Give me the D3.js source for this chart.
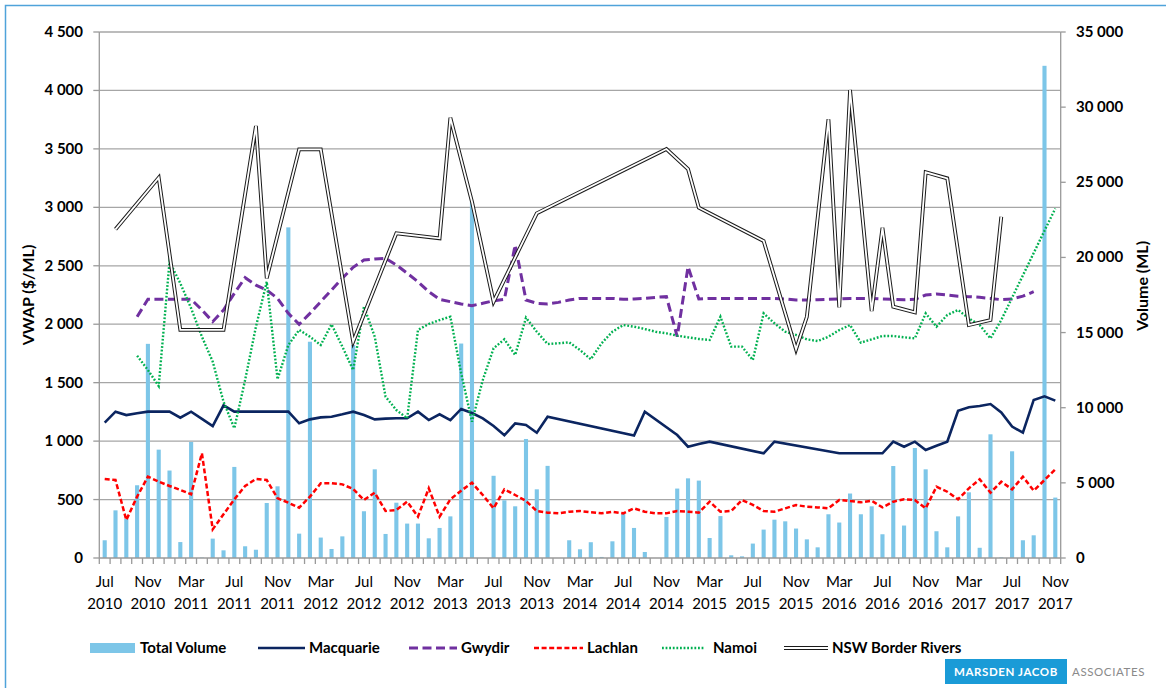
<!DOCTYPE html>
<html>
<head>
<meta charset="utf-8">
<script src="https://cdn.jsdelivr.net/npm/d3@7"></script>
<style>
  body { margin: 0; background: #fff; }
  svg { display: block; font-family: Lato, "Open Sans", sans-serif; }
</style>
</head>
<body>
<svg id="chart" width="1166" height="688"></svg>
<script>
// Monthly categories, Jul 2010 .. Nov 2017
const months = d3.timeMonth.range(new Date(2010, 6, 1), new Date(2017, 11, 1));

// Total traded volume (ML), right axis
const totalVolume = [
  1180, 3170, 2600, 4840, 14250, 7210, 5820, 1060, 7720, 30,
  1290, 510, 6060, 780, 550, 3660, 4770, 22000, 1620, 14390,
  1360, 600, 1440, 14170, 3110, 5900, 1600, 3680, 2290, 2290,
  1310, 2000, 2770, 14270, 23700, 0, 5470, 3840, 3440, 7920,
  4570, 6130, 0, 1180, 580, 1050, 70, 1110, 2930, 2000,
  400, 0, 2730, 4620, 5300, 5150, 1330, 2790, 180, 110,
  960, 1890, 2550, 2440, 1960, 1240, 710, 2910, 2360, 4290,
  2910, 3440, 1580, 6120, 2160, 7320, 5900, 1780, 710, 2770,
  4370, 680, 8230, 40, 7100, 1180, 1510, 32750, 4020
];

// VWAP ($/ML), left axis; null = no trade that month
const macquarie = [
  1158, 1252, 1223, 1238, 1252, 1252, 1252, 1200, 1252, 1190,
  1129, 1306, 1252, 1252, 1252, 1252, 1252, 1252, 1152, 1186,
  1203, 1209, 1229, 1252, 1223, 1186, 1192, 1195, 1195, 1252,
  1180, 1229, 1180, 1275, 1240, 1195, 1129, 1050, 1152, 1138,
  1072, 1209, null, null, null, null, null, null, null, 1047,
  1252, null, null, 1052, 952, 975, 995, null, null, null,
  null, 896, 995, null, null, null, null, null, 896, null,
  null, null, 896, 995, 952, 995, 924, 961, 995, 1260,
  1289, 1300, 1317, 1246, 1124, 1072, 1352, 1383, 1346
];

const gwydir = [
  null, null, null, 2064, 2213, 2213, 2213, 2213, 2213, 2122,
  2022, 2122, 2264, 2398, 2335, 2293, 2221, 2093, 1999, 2093,
  2193, 2293, 2393, 2487, 2549, 2558, 2564, 2507, 2436, 2364,
  2278, 2213, 2193, 2173, 2159, 2179, 2201, 2213, 2678, 2207,
  2179, 2173, 2187, 2207, 2221, 2221, 2221, 2221, 2213, 2216,
  2221, 2230, 2236, 1893, 2492, 2216, 2221, 2221, 2221, 2221,
  2221, 2221, 2221, 2216, 2207, 2207, 2210, 2213, 2216, 2221,
  2221, 2221, 2216, 2213, 2210, 2213, 2250, 2259, 2250, 2240,
  2236, 2230, 2221, 2210, 2216, 2240, 2278, null, null
];

const lachlan = [
  676, 667, 325, 525, 696, 653, 616, 582, 545, 896,
  245, 374, 502, 616, 676, 667, 511, 473, 430, 525,
  639, 639, 630, 590, 496, 559, 402, 411, 482, 354,
  596, 354, 502, 576, 644, 539, 425, 587, 539, 488,
  402, 388, 382, 396, 402, 391, 382, 396, 382, 425,
  396, 382, 382, 402, 396, 388, 482, 396, 402, 496,
  455, 402, 396, 425, 453, 439, 433, 425, 496, 488,
  476, 490, 433, 482, 502, 496, 425, 610, 567, 502,
  596, 673, 559, 653, 587, 696, 576, 667, 759
];

const namoi = [
  null, null, null, 1731, 1608, 1471, 2535, 2350, 2136, 1893,
  1680, 1337, 1110, 1523, 1979, 2364, 1529, 1822, 1951, 1893,
  1822, 1999, 1808, 1608, 2150, 1893, 1380, 1266, 1195, 1951,
  2002, 2036, 2064, 1580, 1166, 1523, 1794, 1871, 1737, 2056,
  1936, 1831, 1837, 1845, 1779, 1700, 1837, 1936, 1993, 1979,
  1959, 1936, 1922, 1902, 1888, 1874, 1865, 2064, 1808, 1808,
  1694, 2093, 2008, 1936, 1908, 1871, 1856, 1893, 1950, 1993,
  1842, 1871, 1899, 1899, 1888, 1879, 2093, 1979, 2079, 2122,
  2050, 1993, 1879, 2036, 2227, 2418, 2609, 2800, 2990
];

const borderRivers = [
  null, 2812, null, null, null, 3254, null, 1951, 1951, 1951,
  1951, 1951, null, null, 3696, 2393, null, null, 3496, 3496,
  3496, null, null, 1851, null, null, null, 2778, null, null,
  null, 2735, 3767, null, 3048, null, 2193, null, null, null,
  2949, null, null, null, null, null, null, null, null, null,
  null, null, 3499, null, 3328, 2997, null, null, null, null,
  null, 2712, null, null, 1785, 2064, null, 3753, 2145, 4004,
  null, 2113, 2826, 2150, null, 2102, 3300, null, 3248, null,
  1993, null, 2036, 2920, null, null, null, null, null
];

const leftTicks = d3.range(0, 4501, 500);
const rightTicks = d3.range(0, 35001, 5000);
const labelEvery = 4;

// ---- drawing ----
const svg = d3.select("#chart");
const plot = { left: 99.3, right: 1060.7, top: 32, bottom: 558 };
const fmt = d3.formatLocale({ decimal: ".", thousands: " ", grouping: [3], currency: ["$", ""] }).format(",");

const x = d3.scaleBand().domain(d3.range(months.length)).range([plot.left, plot.right]).padding(0);
const yL = d3.scaleLinear().domain([0, 4500]).range([plot.bottom, plot.top]);
const yR = d3.scaleLinear().domain([0, 35000]).range([plot.bottom, plot.top]);
const cx = i => x(i) + x.bandwidth() / 2;

// outer frame
svg.append("path")
  .attr("d", "M5.5,700 L5.5,5.5 L1170,5.5")
  .attr("fill", "none").attr("stroke", "#4fa3da").attr("stroke-width", 1.5);

// gridlines
svg.append("g").selectAll("line").data(leftTicks.slice(1)).join("line")
  .attr("x1", plot.left).attr("x2", plot.right)
  .attr("y1", d => yL(d)).attr("y2", d => yL(d))
  .attr("stroke", "#a6a6a6").attr("stroke-width", 1.3);

// bars
const barW = x.bandwidth() * 0.38;
svg.append("g").selectAll("rect").data(totalVolume).join("rect")
  .attr("x", (d, i) => cx(i) - barW / 2)
  .attr("width", barW)
  .attr("y", d => yR(d))
  .attr("height", d => plot.bottom - yR(d))
  .attr("fill", "#7dc6e8");

// axes
const axisColor = "#9a9a9a";
const ax = svg.append("g").attr("stroke", axisColor).attr("stroke-width", 1.3);
ax.append("line").attr("x1", plot.left).attr("x2", plot.left).attr("y1", plot.top).attr("y2", plot.bottom);
ax.append("line").attr("x1", plot.right).attr("x2", plot.right).attr("y1", plot.top).attr("y2", plot.bottom);
ax.append("line").attr("x1", plot.left).attr("x2", plot.right).attr("y1", plot.bottom).attr("y2", plot.bottom);
ax.selectAll(".lt").data(leftTicks).join("line")
  .attr("x1", plot.left - 6).attr("x2", plot.left).attr("y1", d => yL(d)).attr("y2", d => yL(d));
ax.selectAll(".rt").data(rightTicks).join("line")
  .attr("x1", plot.right).attr("x2", plot.right + 5).attr("y1", d => yR(d)).attr("y2", d => yR(d));
ax.selectAll(".bt").data(d3.range(months.length + 1)).join("line")
  .attr("x1", i => plot.left + i * x.step()).attr("x2", i => plot.left + i * x.step())
  .attr("y1", plot.bottom).attr("y2", plot.bottom + 6);

// tick labels
svg.append("g").selectAll("text").data(leftTicks).join("text")
  .attr("x", 83).attr("y", d => yL(d) + 5)
  .attr("text-anchor", "end").attr("font-weight", 700).attr("font-size", 15)
  .text(d => fmt(d));
svg.append("g").selectAll("text").data(rightTicks).join("text")
  .attr("x", 1076).attr("y", d => yR(d) + 5)
  .attr("font-weight", 700).attr("font-size", 15)
  .text(d => fmt(d));

const labelled = d3.range(0, months.length, labelEvery);
const xl = svg.append("g").attr("font-size", 15).attr("text-anchor", "middle");
xl.selectAll(".m").data(labelled).join("text")
  .attr("x", i => cx(i)).attr("y", 587).text(i => d3.timeFormat("%b")(months[i]));
xl.selectAll(".yr").data(labelled).join("text")
  .attr("x", i => cx(i)).attr("y", 609).text(i => d3.timeFormat("%Y")(months[i]));

// axis titles
svg.append("text").attr("transform", "translate(34,295) rotate(-90)")
  .attr("text-anchor", "middle").attr("font-weight", 700).attr("font-size", 16).text("VWAP ($/ML)");
svg.append("text").attr("transform", "translate(1148,286) rotate(-90)")
  .attr("text-anchor", "middle").attr("font-weight", 700).attr("font-size", 16).text("Volume (ML)");

// lines
const line = d3.line().x(d => cx(d[0])).y(d => yL(d[1]));
const pts = arr => arr.map((v, i) => [i, v]).filter(d => d[1] != null);
const styles = {
  "Macquarie": { data: macquarie, stroke: "#0b2560", width: 2.6, dash: null },
  "Gwydir": { data: gwydir, stroke: "#7030a0", width: 3, dash: "9 4.5" },
  "Lachlan": { data: lachlan, stroke: "#ff0000", width: 2.5, dash: "5 2.6" },
  "Namoi": { data: namoi, stroke: "#00b050", width: 2.4, dash: "1.8 1.8" },
};
const gl = svg.append("g").attr("fill", "none");
["Macquarie", "Gwydir", "Lachlan", "Namoi"].forEach(name => {
  const s = styles[name];
  gl.append("path").attr("d", line(pts(s.data)))
    .attr("stroke", s.stroke).attr("stroke-width", s.width)
    .attr("stroke-dasharray", s.dash);
});
// NSW Border Rivers: double line (dark outline, white core)
const brPath = line(pts(borderRivers));
gl.append("path").attr("d", brPath).attr("stroke", "#1a1a1a").attr("stroke-width", 3.8).attr("stroke-miterlimit", 4);
gl.append("path").attr("d", brPath).attr("stroke", "#fff").attr("stroke-width", 1.8).attr("stroke-miterlimit", 4);

// legend
const lg = svg.append("g").attr("font-size", 15).attr("font-weight", 700);
const ly = 648;
lg.append("rect").attr("x", 90).attr("y", ly - 5).attr("width", 45).attr("height", 10).attr("fill", "#7dc6e8");
lg.append("text").attr("x", 140).attr("y", ly + 5).text("Total Volume");
const legendItems = [
  { name: "Macquarie", x0: 258, x1: 305 },
  { name: "Gwydir", x0: 409, x1: 457 },
  { name: "Lachlan", x0: 534, x1: 583 },
  { name: "Namoi", x0: 662, x1: 705 },
  { name: "NSW Border Rivers", x0: 784, x1: 828 },
];
legendItems.forEach(it => {
  if (it.name === "NSW Border Rivers") {
    lg.append("line").attr("x1", it.x0).attr("x2", it.x1).attr("y1", ly).attr("y2", ly)
      .attr("stroke", "#1a1a1a").attr("stroke-width", 3.8);
    lg.append("line").attr("x1", it.x0).attr("x2", it.x1).attr("y1", ly).attr("y2", ly)
      .attr("stroke", "#fff").attr("stroke-width", 1.8);
  } else {
    const s = styles[it.name];
    lg.append("line").attr("x1", it.x0).attr("x2", it.x1).attr("y1", ly).attr("y2", ly)
      .attr("stroke", s.stroke).attr("stroke-width", s.width).attr("stroke-dasharray", s.dash);
  }
  lg.append("text").attr("x", it.x1 + (it.name === "Namoi" ? 8 : 4)).attr("y", ly + 5).text(it.name);
});

// logo
const logo = svg.append("g").attr("font-size", 11.5).attr("letter-spacing", 0.6);
logo.append("rect").attr("x", 945).attr("y", 659).attr("width", 122).attr("height", 25).attr("fill", "#1a9bd7");
logo.append("text").attr("x", 1006).attr("y", 676).attr("text-anchor", "middle").attr("fill", "#fff").attr("font-weight", 700).text("MARSDEN JACOB");
logo.append("text").attr("x", 1072).attr("y", 676).attr("fill", "#8a8a8a").text("ASSOCIATES");
</script>
</body>
</html>
